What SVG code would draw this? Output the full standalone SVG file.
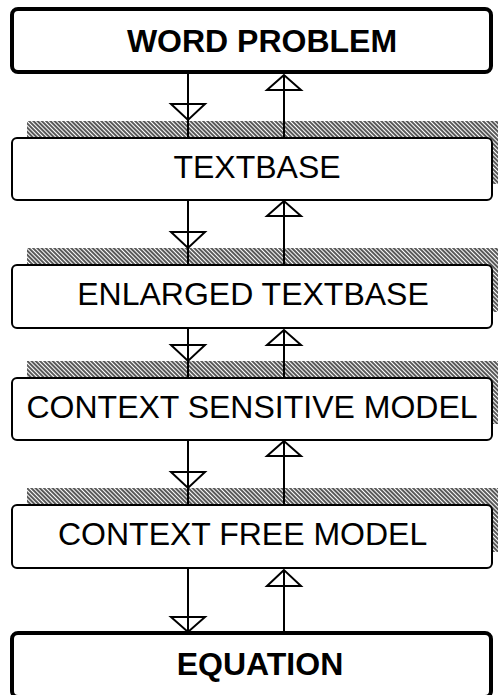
<svg xmlns="http://www.w3.org/2000/svg" width="498" height="695" viewBox="0 0 498 695">
<style>
text{font-family:"Liberation Sans",Arial,sans-serif;font-size:32px;fill:#000}
.b{font-weight:bold}
.box{fill:#fff;stroke:#000;stroke-width:2}
.tbox{fill:#fff;stroke:#000;stroke-width:4}
.sh{fill:url(#hatch);stroke:none}
.ln{stroke:#000;stroke-width:2;fill:none}
.tri{fill:none;stroke:#000;stroke-width:2;stroke-linejoin:miter}
</style>
<defs>
<pattern id="hatch" patternUnits="userSpaceOnUse" width="3" height="3" patternTransform="rotate(-45)">
<rect width="3" height="3" fill="#fff"/>
<line x1="1" y1="0" x2="1" y2="3" stroke="#000" stroke-width="1.3"/>
</pattern>
</defs>
<g id="shadows">
<rect class="sh" x="27" y="121" width="482" height="63"/>
<rect class="sh" x="27" y="248" width="482" height="64"/>
<rect class="sh" x="27" y="361" width="482" height="63"/>
<rect class="sh" x="27" y="488" width="482" height="64"/>
</g>
<g id="connectors">
<line class="ln" x1="188" y1="73" x2="188" y2="137"/>
<polygon class="tri" points="171,104 205,104 188,120"/>
<line class="ln" x1="284" y1="75" x2="284" y2="137"/>
<polygon class="tri" points="284,75 267,90 301,90"/>
<line class="ln" x1="188" y1="200" x2="188" y2="264"/>
<polygon class="tri" points="171,232 205,232 188,248"/>
<line class="ln" x1="284" y1="201" x2="284" y2="264"/>
<polygon class="tri" points="284,201 267,216 301,216"/>
<line class="ln" x1="188" y1="329" x2="188" y2="377"/>
<polygon class="tri" points="171,345 205,345 188,361"/>
<line class="ln" x1="284" y1="330" x2="284" y2="377"/>
<polygon class="tri" points="284,330 267,345 301,345"/>
<line class="ln" x1="188" y1="440" x2="188" y2="504"/>
<polygon class="tri" points="171,472 205,472 188,488"/>
<line class="ln" x1="284" y1="441" x2="284" y2="504"/>
<polygon class="tri" points="284,441 267,456 301,456"/>
<line class="ln" x1="188" y1="569" x2="188" y2="631"/>
<polygon class="tri" points="171,617 205,617 188,632"/>
<line class="ln" x1="284" y1="570" x2="284" y2="631"/>
<polygon class="tri" points="284,570 267,586 301,586"/>
</g>
<g id="word-problem">
<rect class="tbox" x="12" y="9" width="479" height="63" rx="6"/>
<text class="b" x="262" y="52" text-anchor="middle">WORD PROBLEM</text>
</g>
<g id="textbase">
<rect class="box" x="12" y="138" width="480" height="62" rx="5"/>
<text x="257" y="178" text-anchor="middle">TEXTBASE</text>
</g>
<g id="enlarged-textbase">
<rect class="box" x="12" y="265" width="480" height="63" rx="5"/>
<text x="253" y="305" text-anchor="middle">ENLARGED TEXTBASE</text>
</g>
<g id="context-sensitive-model">
<rect class="box" x="12" y="378" width="480" height="62" rx="5"/>
<text x="252" y="418" text-anchor="middle">CONTEXT SENSITIVE MODEL</text>
</g>
<g id="context-free-model">
<rect class="box" x="12" y="505" width="480" height="63" rx="5"/>
<text x="58" y="545">CONTEXT FREE MODEL</text>
</g>
<g id="equation">
<rect class="tbox" x="12" y="633" width="479" height="64" rx="6"/>
<text class="b" x="260" y="675" text-anchor="middle">EQUATION</text>
</g>
</svg>
